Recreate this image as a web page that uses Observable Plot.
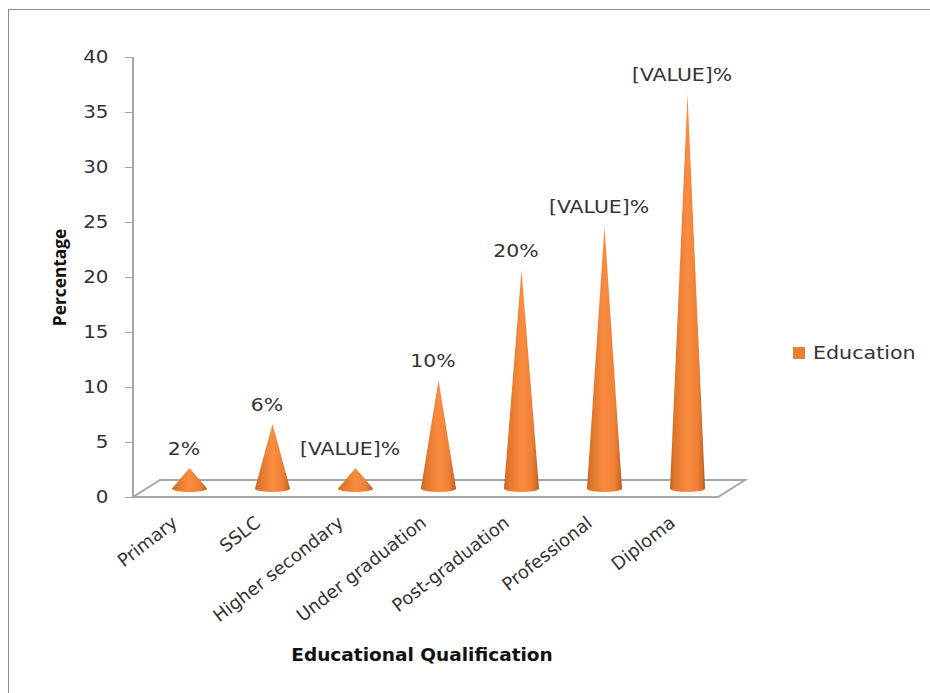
<!DOCTYPE html>
<html>
<head>
<meta charset="utf-8">
<script src="https://cdn.jsdelivr.net/npm/d3@7"></script>
<script src="https://cdn.jsdelivr.net/npm/@observablehq/plot@0.6"></script>
<style>
  html, body { margin: 0; padding: 0; background: #fff; }
  #chart { position: relative; width: 930px; height: 693px; overflow: hidden; }
  #chart svg { position: absolute; left: 0; top: 0; }
  .frame { position: absolute; left: 8px; top: 9px; width: 930px; height: 700px;
           border-left: 1px solid #8c8c8c; border-top: 1px solid #8c8c8c; }
  .legend { position: absolute; left: 793px; top: 342px; display: flex; align-items: center;
            font: 18px "DejaVu Sans", sans-serif; color: #333; }
  .legend i { display: block; width: 12px; height: 12px; background: #ed7d31; margin-right: 8px; }
  .legend span { display: block; transform: scaleX(1.145); transform-origin: left center; }
</style>
</head>
<body>
<div id="chart">
  <div class="frame"></div>
  <div class="legend"><i></i><span>Education</span></div>
</div>
<script>
// Share of respondents by educational qualification
const qualifications = ["Primary", "SSLC", "Higher secondary", "Under graduation", "Post-graduation", "Professional", "Diploma"];
const percentages = [2, 6, 2, 10, 20, 24, 36];
const valueLabels = ["2%", "6%", "[VALUE]%", "10%", "20%", "[VALUE]%", "[VALUE]%"];
const valueTicks = [0, 5, 10, 15, 20, 25, 30, 35, 40];

const rows = qualifications.map((q, i) => ({q, value: percentages[i], label: valueLabels[i]}));

// Depth of the pseudo-3D floor and of the cones standing on it
const depth = {floorX: 27, floorY: 17, coneX: 13, tipY: 7, baseY: 8.5};
const coneHalfWidth = 17.5;
const baseRy = 3.5;
const svgNS = "http://www.w3.org/2000/svg";
const el = (name, attrs) => {
  const node = document.createElementNS(svgNS, name);
  for (const k in attrs) node.setAttribute(k, attrs[k]);
  return node;
};

// Floor parallelogram and value-axis line, anchored on the scales
function floorMark(index, scales, values, dims) {
  const y0 = scales.y(0);
  const y1 = scales.y(40);
  const x0 = dims.marginLeft;
  const x1 = dims.width - dims.marginRight;
  const g = el("g", {fill: "none", stroke: "#a6a6a6", "stroke-width": 2});
  g.appendChild(el("path", {
    d: `M${x0},${y0}L${x0 + depth.floorX},${y0 - depth.floorY}L${x1 + depth.floorX},${y0 - depth.floorY}L${x1},${y0}Z`
  }));
  g.appendChild(el("path", {d: `M${x0},${y1}L${x0},${y0}`}));
  return g;
}

// Cones: apex at the value, elliptical base on the floor, shaded across the width
function coneMark(index, scales) {
  const g = el("g", {});
  const defs = el("defs", {});
  const grad = el("linearGradient", {id: "coneShade", x1: 0, x2: 1, y1: 0, y2: 0});
  [[0, "#b9601f"], [0.08, "#dc7229"], [0.5, "#fa8c40"], [0.8, "#ee7f36"], [0.94, "#cf6a24"], [1, "#a9551d"]]
    .forEach(([o, c]) => grad.appendChild(el("stop", {offset: o, "stop-color": c})));
  defs.appendChild(grad);
  g.appendChild(defs);
  const band = scales.x.bandwidth();
  for (const i of index) {
    const cx = scales.x(rows[i].q) + band / 2 + depth.coneX;
    const top = scales.y(rows[i].value) - depth.tipY;
    const base = scales.y(0) - depth.baseY;
    const w = coneHalfWidth;
    g.appendChild(el("path", {
      d: `M${cx},${top}L${cx + w},${base}A${w},${baseRy} 0 0 1 ${cx - w},${base}Z`,
      fill: "url(#coneShade)"
    }));
  }
  return g;
}

const plot = Plot.plot({
  width: 930,
  height: 693,
  marginTop: 57,
  marginBottom: 196,
  marginLeft: 133,
  marginRight: 212,
  style: {background: "transparent", color: "#333"},
  x: {domain: qualifications, padding: 0, label: null},
  y: {domain: [0, 40], label: null},
  marks: [
    Plot.axisY({
      ticks: valueTicks,
      tickSize: 8,
      tickPadding: 17,
      label: null,
      stroke: "#a6a6a6",
      fontSize: 17,
      fontFamily: "DejaVu Sans"
    }),
    Plot.axisX({
      tickSize: 0,
      tickRotate: -38,
      tickPadding: 8,
      label: null,
      fontSize: 18,
      fontFamily: "DejaVu Sans",
      dx: -2,
      dy: 15
    }),
    Plot.barY(rows, {x: "q", y: "value", render: floorMark}),
    Plot.barY(rows, {x: "q", y: "value", render: coneMark}),
    Plot.text(rows, {
      x: "q", y: "value", text: "label",
      dx: 7, dy: -26,
      fontSize: 17, fontFamily: "DejaVu Sans", fill: "#333"
    }),
    Plot.text(["Percentage"], {
      frameAnchor: "left", textAnchor: "middle", dx: -73, rotate: -90,
      fontSize: 18, fontWeight: "bold", fontFamily: "Open Sans", fill: "#111"
    }),
    Plot.text(["Educational Qualification"], {
      frameAnchor: "bottom", dy: 163, dx: -4,
      fontSize: 17, fontWeight: "bold", fontFamily: "DejaVu Sans", fill: "#111"
    })
  ]
});
document.getElementById("chart").appendChild(plot);

// The type runs wide in this chart: adjust the glyphs along the text direction
const fit = (nodes, factor) => {
  nodes.forEach((t) => {
    t.setAttribute("textLength", t.getComputedTextLength() * factor);
    t.setAttribute("lengthAdjust", "spacingAndGlyphs");
  });
};
const [valueGroup, yTitleGroup, xTitleGroup] = plot.querySelectorAll('g[aria-label="text"]');
fit(plot.querySelectorAll('g[aria-label="y-axis tick label"] text'), 1.17);
fit(valueGroup.querySelectorAll("text"), 1.2);
fit(yTitleGroup.querySelectorAll("text"), 0.96);
fit(xTitleGroup.querySelectorAll("text"), 1.09);
</script>
</body>
</html>
